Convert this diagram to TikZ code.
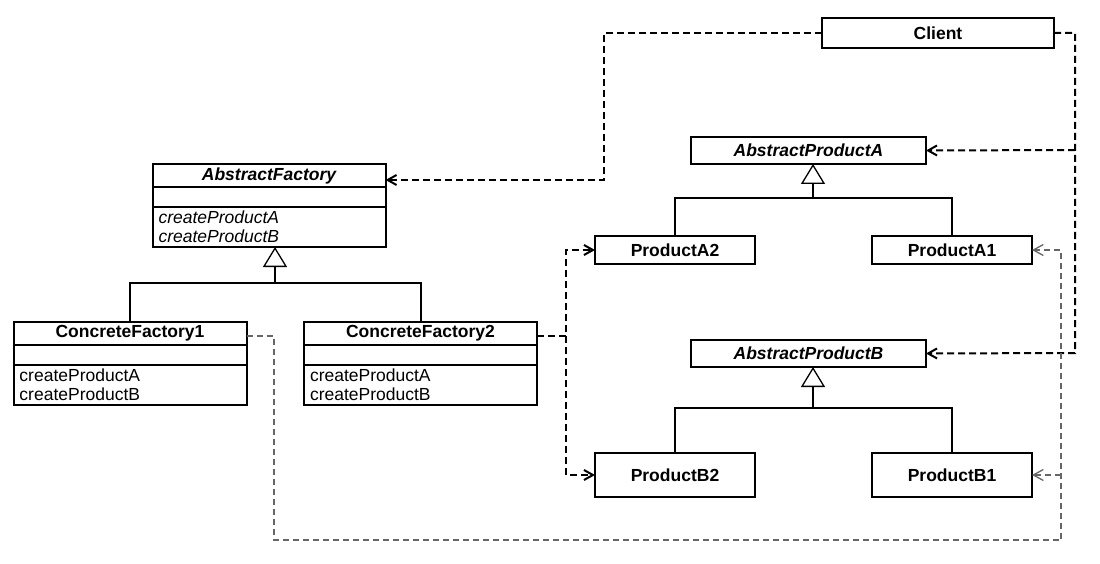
\documentclass[tikz,border=0pt]{standalone}
\usepackage{fontspec}
\setmainfont{Liberation Sans}
\usetikzlibrary{positioning,arrows.meta}

\begin{document}
\begin{tikzpicture}[x=1pt,y=-1pt,
        cls/.style={draw, line width=2pt, outer sep=0pt, inner sep=0pt, minimum width=233pt, minimum height=23pt, font=\fontsize{17.5}{19}\selectfont\bfseries},
        attr/.style={draw, line width=2pt, outer sep=0pt, minimum width=233pt, minimum height=20pt},
        ops/.style={draw, line width=2pt, outer sep=0pt, inner xsep=6pt, inner ysep=0pt, minimum height=40pt, text width=221pt, align=left, font=\fontsize{17.5}{19}\selectfont},
        prod/.style={draw, line width=2pt, outer sep=0pt, inner sep=0pt, minimum width=160pt, font=\fontsize{17.5}{19}\selectfont\bfseries},
        dep/.style={line width=2pt, dash pattern=on 7pt off 4pt, -{Straight Barb[length=9pt,width=10pt]}},
        dep1/.style={line width=1.3pt, gray!80!black, dash pattern=on 6pt off 4pt, -{Straight Barb[length=10pt,width=11pt]}},
        isa/.style={line width=2pt, -{Triangle[open,length=20pt,width=24pt,line width=1.3pt]}}]
                \useasboundingbox (0,0) rectangle (1100,564);
                \begin{scope}
                        \node[cls, minimum width=232pt, minimum height=30pt] (Cl) at (938,33) {Client};
                        \node[cls] (AFt) at (269,175.5) {\itshape AbstractFactory};
                        \node[attr, below=0pt of AFt] (AFa) {};
                        \node[ops, below=0pt of AFa, font=\fontsize{17.5}{19}\selectfont\itshape] (AFo) {createProductA\\createProductB};
                        \node[cls] (CF1t) at (130,333) {ConcreteFactory1};
                        \node[attr, below=0pt of CF1t] (CF1a) {};
                        \node[ops, below=0pt of CF1a] (CF1o) {createProductA\\createProductB};
                        \node[cls] (CF2t) at (420.5,333) {ConcreteFactory2};
                        \node[attr, below=0pt of CF2t] (CF2a) {};
                        \node[ops, below=0pt of CF2a] (CF2o) {createProductA\\createProductB};
                        \node[cls, minimum width=235pt, minimum height=27pt] (APA) at (808.5,150.5) {\itshape AbstractProductA};
                        \node[prod, minimum height=28pt] (PA2) at (675,250) {ProductA2};
                        \node[prod, minimum height=28pt] (PA1) at (952,250) {ProductA1};
                        \node[cls, minimum width=235pt, minimum height=27pt] (APB) at (808.5,353.5) {\itshape AbstractProductB};
                        \node[prod, minimum height=44pt] (PB2) at (675,475) {ProductB2};
                        \node[prod, minimum height=44pt] (PB1) at (952,475) {ProductB1};
                \end{scope}
                \begin{scope}
                        % junctions and bends
                        \coordinate (jF) at (275,283);
                        \coordinate (jA) at (813,198);
                        \coordinate (jB) at (813,408);
                        \coordinate (cF) at (604,180);
                        \coordinate (cRA) at (1075,150);
                        \coordinate (cRB) at (1075,353);
                        \coordinate (c2) at (566,336);
                        \coordinate (c1) at (274,336);
                        \coordinate (c1b) at (274,540);
                        \coordinate (cA1) at (1061,250);
                        \coordinate (cB1) at (1061,475);
                        % inheritance
                        \draw[line width=2pt] (CF1t.north) |- (jF) -| (CF2t.north);
                        \draw[isa] (jF) -- (jF |- AFo.south);
                        \draw[line width=2pt] (PA2.north) |- (jA) -| (PA1.north);
                        \draw[isa] (jA) -- (jA |- APA.south);
                        \draw[line width=2pt] (PB2.north) |- (jB) -| (PB1.north);
                        \draw[isa] (jB) -- (jB |- APB.south);
                        % dependencies
                        \draw[dep] (Cl.west) -| (cF) -- (AFt.east |- cF);
                        \draw[dep] (Cl.east) -| (cRB) -- (APB.east);
                        \draw[dep] (cRA) -- (APA.east);
                        \draw[dep] (CF2t.east |- c2) -- (c2) |- (PA2.west);
                        \draw[dep] (c2) |- (PB2.west);
                        \draw[dep1] (CF1t.east |- c1) -- (c1) -- (c1b) -| (cA1) -- (PA1.east);
                        \draw[dep1] (cB1) -- (PB1.east);
                \end{scope}
\end{tikzpicture}
\end{document}
